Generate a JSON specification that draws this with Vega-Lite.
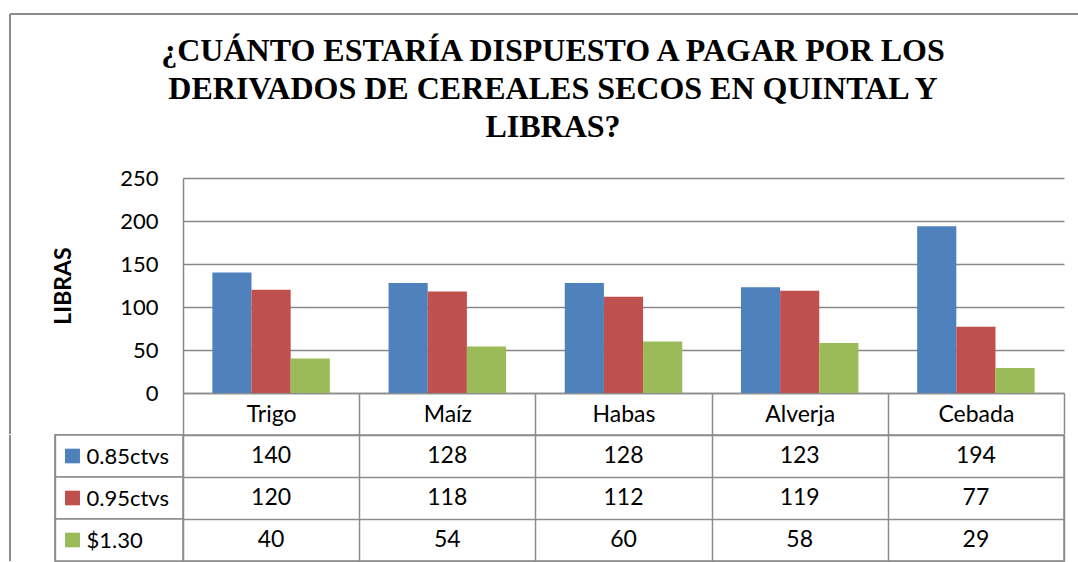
{
  "$schema": "https://vega.github.io/schema/vega-lite/v6.json",
  "background": "white",
  "padding": {"left": 8, "top": 13, "right": 0, "bottom": 0},
  "title": {
    "text": ["¿CUÁNTO ESTARÍA DISPUESTO A PAGAR POR LOS", "DERIVADOS DE CEREALES SECOS EN QUINTAL Y", "LIBRAS?"],
    "font": "Liberation Serif",
    "fontSize": 32,
    "fontWeight": "bold",
    "lineHeight": 38,
    "anchor": "middle",
    "color": "black",
    "dx": 9,
    "offset": -131
  },
  "datasets": {
    "d": [
      {"cereal": "Trigo", "serie": "0.85ctvs", "valor": 140},
      {"cereal": "Trigo", "serie": "0.95ctvs", "valor": 120},
      {"cereal": "Trigo", "serie": "$1.30", "valor": 40},
      {"cereal": "Maíz", "serie": "0.85ctvs", "valor": 128},
      {"cereal": "Maíz", "serie": "0.95ctvs", "valor": 118},
      {"cereal": "Maíz", "serie": "$1.30", "valor": 54},
      {"cereal": "Habas", "serie": "0.85ctvs", "valor": 128},
      {"cereal": "Habas", "serie": "0.95ctvs", "valor": 112},
      {"cereal": "Habas", "serie": "$1.30", "valor": 60},
      {"cereal": "Alverja", "serie": "0.85ctvs", "valor": 123},
      {"cereal": "Alverja", "serie": "0.95ctvs", "valor": 119},
      {"cereal": "Alverja", "serie": "$1.30", "valor": 58},
      {"cereal": "Cebada", "serie": "0.85ctvs", "valor": 194},
      {"cereal": "Cebada", "serie": "0.95ctvs", "valor": 77},
      {"cereal": "Cebada", "serie": "$1.30", "valor": 29}
    ]
  },
  "spacing": -12,
  "vconcat": [
    {
      "width": 881,
      "height": 215,
      "data": {"name": "d"},
      "encoding": {
        "x": {
          "field": "cereal", "type": "nominal",
          "scale": {"domain": ["Trigo", "Maíz", "Habas", "Alverja", "Cebada"], "paddingInner": 0, "paddingOuter": 0},
          "axis": {
            "title": null, "labelAngle": 0, "tickBand": "extent", "tickSize": 41,
            "tickColor": "#8c8c8c", "domainColor": "#8c8c8c", "tickWidth": 1.5, "domainWidth": 1.5,
            "labelPadding": -20, "labelBaseline": "middle", "labelFont": "Lato",
            "labelFontSize": 23, "labelColor": "black"
          }
        }
      },
      "layer": [
        {
          "mark": {"type": "bar"},
          "encoding": {
            "xOffset": {
              "field": "serie", "type": "nominal",
              "scale": {"domain": ["0.85ctvs", "0.95ctvs", "$1.30"], "paddingInner": 0, "paddingOuter": 0.75}
            },
            "y": {
              "field": "valor", "type": "quantitative",
              "scale": {"domain": [0, 250], "nice": false, "zero": false},
              "axis": {
                "title": "LIBRAS", "titleFont": "Lato", "titleFontSize": 23, "titleFontWeight": "bold",
                "titleColor": "black", "titlePadding": 44,
                "values": [0, 50, 100, 150, 200, 250], "ticks": false, "grid": true,
                "gridColor": "#878787", "gridWidth": 1.5, "domainColor": "#878787", "domainWidth": 1.5,
                "labelFont": "Lato", "labelFontSize": 22, "labelColor": "black", "labelPadding": 25
              }
            },
            "color": {
              "field": "serie", "type": "nominal",
              "scale": {"domain": ["0.85ctvs", "0.95ctvs", "$1.30"], "range": ["#4F81BD", "#C0504D", "#9BBB59"]},
              "legend": null
            }
          }
        },
        {
          "mark": {"type": "rule", "color": "#8c8c8c", "strokeWidth": 1.5},
          "encoding": {
            "x": {"datum": "Trigo", "type": "nominal", "bandPosition": -0.982},
            "y": {"datum": 440.7, "type": "quantitative", "scale": {"domain": [0, 250], "nice": false, "zero": false}},
            "y2": {"datum": -47}
          }
        },
        {
          "mark": {"type": "rule", "color": "#8c8c8c", "strokeWidth": 1.5},
          "encoding": {
            "x": {"datum": "Trigo", "type": "nominal", "bandPosition": -0.982},
            "x2": {"datum": "Cebada", "bandPosition": 1.084},
            "y": {"datum": 440.7, "type": "quantitative", "scale": {"domain": [0, 250], "nice": false, "zero": false}}
          }
        }
      ]
    },
    {
      "width": 881,
      "height": 126,
      "data": {"name": "d"},
      "view": {"stroke": "#8c8c8c", "strokeWidth": 1.5},
      "layer": [
        {
          "mark": {"type": "rect", "fill": "white", "stroke": "#8c8c8c", "strokeWidth": 1.5},
          "encoding": {
            "x": {
              "datum": "Trigo", "type": "nominal", "bandPosition": -0.724,
              "scale": {"domain": ["Trigo", "Maíz", "Habas", "Alverja", "Cebada"], "paddingInner": 0, "paddingOuter": 0},
              "axis": {
                "title": null, "labels": false, "ticks": false, "domain": false,
                "grid": true, "tickBand": "extent", "gridColor": "#8c8c8c", "gridWidth": 1.5
              }
            },
            "x2": {"datum": "Trigo", "bandPosition": 0},
            "y": {
              "field": "serie", "type": "nominal",
              "scale": {"domain": ["0.85ctvs", "0.95ctvs", "$1.30"], "paddingInner": 0, "paddingOuter": 0},
              "axis": {
                "title": null, "orient": "left", "ticks": false, "domain": false,
                "grid": true, "tickBand": "extent", "gridColor": "#8c8c8c", "gridWidth": 1.5,
                "labelAlign": "left", "labelBaseline": "middle", "labelPadding": 97,
                "labelFont": "Lato", "labelFontSize": 22, "labelColor": "black"
              }
            }
          }
        },
        {
          "mark": {"type": "text", "font": "Lato", "fontSize": 23, "color": "black"},
          "encoding": {
            "x": {"field": "cereal", "type": "nominal", "scale": {"domain": ["Trigo", "Maíz", "Habas", "Alverja", "Cebada"]}},
            "y": {"field": "serie", "type": "nominal", "scale": {"domain": ["0.85ctvs", "0.95ctvs", "$1.30"]}},
            "text": {"field": "valor", "type": "quantitative"}
          }
        },
        {
          "mark": {"type": "point", "shape": "square", "filled": true, "size": 200, "opacity": 1},
          "encoding": {
            "x": {"datum": "Trigo", "type": "nominal", "bandPosition": -0.627, "scale": {"domain": ["Trigo", "Maíz", "Habas", "Alverja", "Cebada"]}},
            "y": {"field": "serie", "type": "nominal", "scale": {"domain": ["0.85ctvs", "0.95ctvs", "$1.30"]}},
            "color": {
              "field": "serie", "type": "nominal",
              "scale": {"domain": ["0.85ctvs", "0.95ctvs", "$1.30"], "range": ["#4F81BD", "#C0504D", "#9BBB59"]},
              "legend": null
            }
          }
        },
        {
          "mark": {"type": "rule", "color": "#8c8c8c", "strokeWidth": 1.5},
          "encoding": {
            "x": {"datum": "Trigo", "type": "nominal", "bandPosition": -0.982, "scale": {"domain": ["Trigo", "Maíz", "Habas", "Alverja", "Cebada"]}}
          }
        }
      ]
    }
  ],
  "config": {
    "view": {"stroke": null},
    "font": "Lato"
  }
}
